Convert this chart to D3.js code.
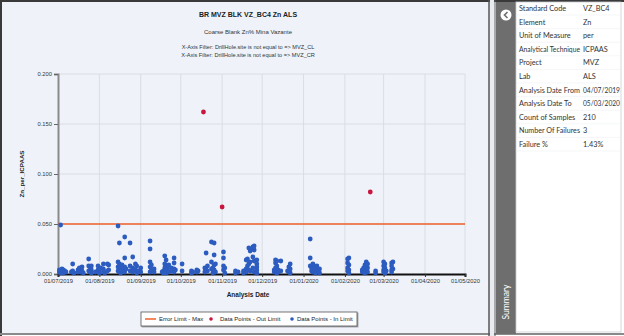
<!DOCTYPE html>
<html><head><meta charset="utf-8">
<script src="https://cdn.jsdelivr.net/npm/d3@7"></script>
<style>
html,body{margin:0;padding:0;background:#fff;}
svg{display:block;font-family:"Liberation Sans",Arial,sans-serif;}
</style></head>
<body><svg id="c" width="624" height="336"></svg>
<script>
const title = "BR MVZ BLK VZ_BC4 Zn ALS";
const subtitle = "Coarse Blank Zn% Mina Vazante";
const filters = ["X-Axis Filter: DrillHole.site is not equal to => MVZ_CL","X-Axis Filter: DrillHole.site is not equal to => MVZ_CR"];
const yLabel = "Zn_per_ICPAAS";
const xLabel = "Analysis Date";
const errorLimit = 0.050;
const yTicks = [0, 0.05, 0.10, 0.15, 0.20];
const xTickDates = ["2019-07-01","2019-08-01","2019-09-01","2019-10-01","2019-11-01","2019-12-01","2020-01-01","2020-02-01","2020-03-01","2020-04-01","2020-05-01"];
const legendLabels = ["Error Limit - Max","Data Points - Out Limit","Data Points - In Limit"];
const summaryKeys = ["Standard Code","Element","Unit of Measure","Analytical Technique","Project","Lab","Analysis Date From","Analysis Date To","Count of Samples","Number Of Failures","Failure %"];
const summaryValues = ["VZ_BC4","Zn","per","ICPAAS","MVZ","ALS","04/07/2019","05/03/2020","210","3","1.43%"];

// out-of-limit points
const outDates = ["2019-10-18","2019-11-01","2020-02-20"];
const outValues = [0.162, 0.067, 0.082];

// in-limit points: dates and values per sample day
const inDates = [
"2019-07-03","2019-07-02","2019-07-02","2019-07-03","2019-07-03","2019-07-04","2019-07-04","2019-07-05","2019-07-05","2019-07-06","2019-07-07",
"2019-07-11","2019-07-12","2019-07-12","2019-07-13","2019-07-16","2019-07-16","2019-07-17","2019-07-18","2019-07-18","2019-07-19","2019-07-19","2019-07-20",
"2019-07-24","2019-07-24","2019-07-24","2019-07-25","2019-07-25","2019-07-26","2019-07-26","2019-07-26","2019-07-29","2019-07-31","2019-07-31","2019-08-01","2019-08-01",
"2019-08-02","2019-08-04","2019-08-04","2019-08-04","2019-08-05","2019-08-07","2019-08-07","2019-08-08","2019-08-08",
"2019-08-15","2019-08-15","2019-08-15","2019-08-15","2019-08-16","2019-08-16","2019-08-16","2019-08-16","2019-08-17","2019-08-17","2019-08-18","2019-08-18","2019-08-19",
"2019-08-20","2019-08-20","2019-08-20","2019-08-20","2019-08-21","2019-08-24","2019-08-24","2019-08-24","2019-08-26","2019-08-26","2019-08-26","2019-08-28","2019-08-28","2019-08-29","2019-08-29","2019-08-30","2019-09-01","2019-09-01",
"2019-09-08","2019-09-08","2019-09-08","2019-09-08","2019-09-08","2019-09-09","2019-09-09","2019-09-11","2019-09-11",
"2019-09-17","2019-09-18","2019-09-18","2019-09-19","2019-09-19","2019-09-19","2019-09-19","2019-09-20","2019-09-20","2019-09-20","2019-09-20","2019-09-21","2019-09-21","2019-09-22","2019-09-22","2019-09-24","2019-09-24","2019-09-26","2019-09-26","2019-09-26","2019-09-26","2019-09-27","2019-10-02","2019-10-02",
"2019-10-09","2019-10-09","2019-10-10","2019-10-13","2019-10-13","2019-10-14","2019-10-19","2019-10-19","2019-10-20","2019-10-20","2019-10-21","2019-10-21","2019-10-24","2019-10-24","2019-10-24","2019-10-25","2019-10-25","2019-10-26","2019-10-26","2019-10-26","2019-10-26","2019-10-27","2019-10-27","2019-11-02","2019-11-02","2019-11-02","2019-11-02","2019-11-03","2019-11-03",
"2019-11-11","2019-11-11","2019-11-13","2019-11-17","2019-11-17","2019-11-19","2019-11-19","2019-11-19","2019-11-20","2019-11-20","2019-11-21","2019-11-21","2019-11-21","2019-11-22","2019-11-22","2019-11-22","2019-11-24","2019-11-24","2019-11-24","2019-11-24","2019-11-25","2019-11-25","2019-11-25","2019-11-25","2019-11-27","2019-11-27","2019-11-27","2019-11-27","2019-11-27",
"2019-12-10","2019-12-10","2019-12-11","2019-12-11","2019-12-11","2019-12-11","2019-12-12","2019-12-12","2019-12-12","2019-12-12","2019-12-13","2019-12-13","2019-12-15","2019-12-15","2019-12-20","2019-12-21","2019-12-21","2019-12-22","2019-12-22","2019-12-22",
"2020-01-06","2020-01-06","2020-01-06","2020-01-07","2020-01-07","2020-01-08","2020-01-08","2020-01-08","2020-01-09","2020-01-09","2020-01-10","2020-01-10","2020-01-11","2020-01-11","2020-01-11","2020-01-13","2020-01-13",
"2020-02-03","2020-02-03","2020-02-03","2020-02-03","2020-02-04","2020-02-04","2020-02-04","2020-02-04",
"2020-02-14","2020-02-14","2020-02-15","2020-02-15","2020-02-16","2020-02-16","2020-02-16","2020-02-17","2020-02-17","2020-02-17","2020-02-18","2020-02-18","2020-02-18","2020-02-24","2020-02-24",
"2020-03-01","2020-03-01","2020-03-01","2020-03-01","2020-03-02","2020-03-02","2020-03-02","2020-03-03","2020-03-07","2020-03-07","2020-03-07","2020-03-07","2020-03-08","2020-03-08"];
const inValues = [
0.049,0.004,0.002,0.003,0.001,0.005,0.002,0.004,0.001,0.003,0.002,
0.002,0.010,0.003,0.001,0.004,0.002,0.006,0.005,0.002,0.007,0.003,0.001,
0.015,0.008,0.003,0.007,0.002,0.008,0.004,0.001,0.002,0.008,0.004,0.003,0.001,
0.006,0.010,0.005,0.002,0.001,0.010,0.003,0.009,0.004,
0.048,0.012,0.007,0.003,0.031,0.010,0.005,0.002,0.006,0.001,0.009,0.004,0.003,
0.037,0.016,0.007,0.002,0.005,0.031,0.008,0.003,0.017,0.006,0.002,0.010,0.004,0.008,0.001,0.003,0.006,0.002,
0.033,0.025,0.012,0.007,0.002,0.009,0.004,0.005,0.002,
0.002,0.003,0.001,0.018,0.010,0.006,0.003,0.014,0.008,0.004,0.001,0.007,0.005,0.009,0.002,0.006,0.003,0.016,0.011,0.005,0.002,0.004,0.010,0.003,
0.003,0.001,0.002,0.004,0.002,0.003,0.006,0.002,0.021,0.004,0.008,0.003,0.032,0.012,0.005,0.006,0.001,0.031,0.019,0.009,0.004,0.010,0.002,0.022,0.016,0.008,0.004,0.006,0.001,
0.003,0.001,0.002,0.003,0.001,0.014,0.005,0.002,0.015,0.008,0.026,0.010,0.004,0.023,0.012,0.003,0.027,0.025,0.017,0.006,0.028,0.024,0.013,0.002,0.014,0.010,0.007,0.004,0.001,
0.004,0.002,0.014,0.011,0.006,0.003,0.013,0.008,0.005,0.001,0.004,0.002,0.013,0.003,0.003,0.007,0.002,0.010,0.005,0.001,
0.035,0.016,0.008,0.006,0.003,0.010,0.005,0.002,0.008,0.004,0.006,0.001,0.008,0.004,0.002,0.005,0.001,
0.015,0.011,0.006,0.003,0.016,0.009,0.004,0.001,
0.002,0.004,0.006,0.003,0.009,0.005,0.001,0.012,0.007,0.003,0.010,0.006,0.002,0.003,0.001,
0.012,0.008,0.004,0.002,0.010,0.006,0.001,0.003,0.011,0.008,0.004,0.002,0.012,0.005];

const parse = d3.utcParse("%Y-%m-%d");
const svg = d3.select("#c");

// background frames
svg.append("rect").attr("x",0).attr("y",0).attr("width",624).attr("height",336).attr("fill","#ffffff");
svg.append("rect").attr("x",2).attr("y",2).attr("width",488).attr("height",331).attr("fill","#eff3f9");
svg.append("line").attr("x1",0).attr("x2",624).attr("y1",1).attr("y2",1).attr("stroke","#3a3a3a").attr("stroke-width",2);
svg.append("line").attr("x1",1).attr("x2",1).attr("y1",0).attr("y2",336).attr("stroke","#3a3a3a").attr("stroke-width",2);
svg.append("line").attr("x1",0).attr("x2",624).attr("y1",334).attr("y2",334).attr("stroke","#8a8a8a").attr("stroke-width",2);
svg.append("rect").attr("x",490).attr("y",0).attr("width",4).attr("height",336).attr("fill","#e8ecf2");
svg.append("line").attr("x1",489).attr("x2",489).attr("y1",0).attr("y2",336).attr("stroke","#555").attr("stroke-width",1.5);
svg.append("line").attr("x1",495).attr("x2",495).attr("y1",0).attr("y2",336).attr("stroke","#555").attr("stroke-width",1);
svg.append("rect").attr("x",496).attr("y",2).attr("width",20).attr("height",332).attr("fill","#6e6e6e");
svg.append("rect").attr("x",516).attr("y",2).attr("width",105).attr("height",330).attr("fill","#ffffff").attr("stroke","#c8ccd2").attr("stroke-width",0.8);

// icon + Summary
svg.append("circle").attr("cx",506).attr("cy",15).attr("r",5.5).attr("fill","#ffffff");
svg.append("path").attr("d","M507.5,12 L504.5,15 L507.5,18").attr("fill","none").attr("stroke","#6e6e6e").attr("stroke-width",1.6);
svg.append("text").attr("transform","translate(509,302) rotate(-90)").attr("text-anchor","middle")
  .attr("font-size",8.5).attr("font-family","Lato, sans-serif").attr("fill","#ffffff").text("Summary");

// summary table
const rowH = 13.6;
summaryKeys.forEach((k,i)=>{
  const y = 11 + i*rowH;
  const t = svg.append("text").attr("x",519).attr("y",y).attr("font-size",7.3).attr("font-family","Lato, sans-serif").attr("fill","#333").text(k);
  const w = t.node().getComputedTextLength();
  if (w > 61) t.attr("textLength",61).attr("lengthAdjust","spacingAndGlyphs");
  const v = svg.append("text").attr("x",583).attr("y",y).attr("font-size",7.3).attr("font-family","Lato, sans-serif").attr("fill","#333").text(summaryValues[i]);
  if (v.node().getComputedTextLength() > 37) v.attr("textLength",37).attr("lengthAdjust","spacingAndGlyphs");
  svg.append("line").attr("x1",517).attr("x2",620).attr("y1",y+4).attr("y2",y+4).attr("stroke","#eef0f3").attr("stroke-width",0.6);
});

// chart
const x = d3.scaleUtc().domain([parse(xTickDates[0]), parse(xTickDates[xTickDates.length-1])]).range([58,465]);
const y = d3.scaleLinear().domain([0,0.2]).range([274,74]);

// grid
svg.append("g").selectAll("line").data(xTickDates.slice(1)).join("line")
  .attr("x1",d=>x(parse(d))).attr("x2",d=>x(parse(d))).attr("y1",74).attr("y2",274)
  .attr("stroke","#dadde3").attr("stroke-width",1);
svg.append("g").selectAll("line").data(yTicks.slice(1)).join("line")
  .attr("x1",58).attr("x2",465).attr("y1",d=>y(d)).attr("y2",d=>y(d))
  .attr("stroke","#dadde3").attr("stroke-width",1);

// y axis
const yAxis = svg.append("g").attr("transform","translate(58,0)")
  .call(d3.axisLeft(y).tickValues(yTicks).tickFormat(d3.format(".3f")).tickSize(4).tickPadding(2));
yAxis.select(".domain").attr("stroke","#8a8a8a").attr("stroke-width",2);
yAxis.selectAll(".tick line").attr("stroke","#666");
yAxis.selectAll("text").attr("font-size",5.8).attr("fill","#333").attr("font-family","Liberation Sans, Arial, sans-serif");

// x axis
const xAxis = svg.append("g").attr("transform","translate(0,274)")
  .call(d3.axisBottom(x).tickValues(xTickDates.map(parse)).tickFormat(d3.utcFormat("%d/%m/%Y")).tickSize(3).tickPadding(1.5));
xAxis.select(".domain").attr("stroke","#111").attr("stroke-width",2);
xAxis.selectAll(".tick line").attr("stroke","#333");
xAxis.selectAll("text").attr("font-size",5.8).attr("fill","#333").attr("font-family","Liberation Sans, Arial, sans-serif");

// error limit
svg.append("line").attr("x1",58).attr("x2",465).attr("y1",y(errorLimit)).attr("y2",y(errorLimit))
  .attr("stroke","#f0622a").attr("stroke-width",1.6);

// points
const inData = inDates.map((d,i)=>({d:parse(d),v:inValues[i]}));
svg.append("g").selectAll("circle").data(inData).join("circle")
  .attr("cx",d=>x(d.d)).attr("cy",d=>y(d.v)).attr("r",2.4).attr("fill","#2d5cc0");
const outData = outDates.map((d,i)=>({d:parse(d),v:outValues[i]}));
svg.append("g").selectAll("circle").data(outData).join("circle")
  .attr("cx",d=>x(d.d)).attr("cy",d=>y(d.v)).attr("r",2.4).attr("fill","#c8163e");

// titles
svg.append("text").attr("x",248).attr("y",17).attr("text-anchor","middle").attr("font-size",7).attr("font-weight","bold").attr("fill","#222").text(title);
svg.append("text").attr("x",248).attr("y",34).attr("text-anchor","middle").attr("font-size",6).attr("fill","#333").text(subtitle);
filters.forEach((f,i)=>svg.append("text").attr("x",248).attr("y",49+i*7.5).attr("text-anchor","middle").attr("font-size",5.6).attr("fill","#333").text(f));
svg.append("text").attr("transform","translate(24,174) rotate(-90)").attr("text-anchor","middle").attr("font-size",6.2).attr("font-weight","bold").attr("fill","#222").text(yLabel);
svg.append("text").attr("x",248).attr("y",297).attr("text-anchor","middle").attr("font-size",6.5).attr("font-weight","bold").attr("fill","#222").text(xLabel);

// legend
const lg = svg.append("g");
lg.append("rect").attr("x",141).attr("y",312).attr("width",216).attr("height",14).attr("fill","#ffffff").attr("stroke","#555").attr("stroke-width",0.8)
  .style("filter","drop-shadow(1px 1px 0.5px rgba(0,0,0,0.35))");
lg.append("line").attr("x1",145).attr("x2",156).attr("y1",319).attr("y2",319).attr("stroke","#f0622a").attr("stroke-width",1.5);
lg.append("text").attr("x",159).attr("y",321).attr("font-size",6).attr("fill","#222").text(legendLabels[0]);
lg.append("circle").attr("cx",211).attr("cy",319).attr("r",1.8).attr("fill","#c8163e");
lg.append("text").attr("x",220).attr("y",321).attr("font-size",6).attr("fill","#222").text(legendLabels[1]);
lg.append("circle").attr("cx",292).attr("cy",319).attr("r",1.8).attr("fill","#2d5cc0");
lg.append("text").attr("x",297).attr("y",321).attr("font-size",6).attr("fill","#222").text(legendLabels[2]);
</script></body></html>
